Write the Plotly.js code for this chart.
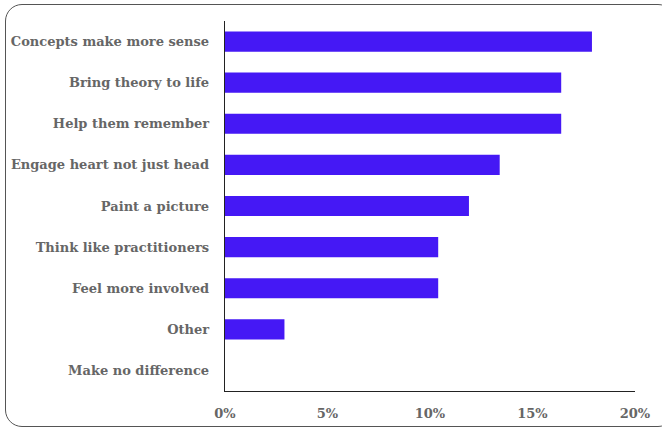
<!DOCTYPE html>
<html>
<head>
<meta charset="utf-8">
<script src="https://cdn.plot.ly/plotly-3.0.1.min.js"></script>
<style>
  html, body { margin: 0; padding: 0; background: #fff; }
  #wrap { position: relative; width: 662px; height: 429px; overflow: hidden; }
  #chart { position: absolute; left: 0; top: 0; width: 662px; height: 429px; }
  #frame { position: absolute; left: 5px; top: 4px; width: 668px; height: 421px;
           border: 1.5px solid #555; border-radius: 17px; pointer-events: none; }
</style>
</head>
<body>
<div id="wrap">
  <div id="chart"></div>
  <div id="frame"></div>
</div>
<script>
const categories = [
  "Concepts make more sense",
  "Bring theory to life",
  "Help them remember",
  "Engage heart not just head",
  "Paint a picture",
  "Think like practitioners",
  "Feel more involved",
  "Other",
  "Make no difference"
];
const values = [17.9, 16.4, 16.4, 13.4, 11.9, 10.4, 10.4, 2.9, 0];
const xTicks = [0, 5, 10, 15, 20];

const labelFont = { family: "DejaVu Serif, serif", size: 13, color: "#666666", weight: 700 };

Plotly.newPlot("chart", [{
  type: "bar",
  orientation: "h",
  y: categories,
  x: values,
  marker: { color: "#4518F5", line: { width: 0 } },
  hoverinfo: "skip"
}], {
  width: 662, height: 429,
  margin: { l: 225, r: 27, t: 21, b: 38 },
  paper_bgcolor: "rgba(0,0,0,0)",
  plot_bgcolor: "rgba(0,0,0,0)",
  bargap: 0.51,
  showlegend: false,
  xaxis: {
    range: [0, 20],
    tickvals: xTicks,
    ticktext: xTicks.map(v => v + "%"),
    showgrid: false,
    zeroline: false,
    showline: true,
    linecolor: "#222",
    linewidth: 1.3,
    ticks: "outside",
    ticklen: 10,
    tickcolor: "rgba(0,0,0,0)",
    tickfont: labelFont,
    fixedrange: true
  },
  yaxis: {
    categoryorder: "array",
    categoryarray: categories.slice().reverse(),
    showgrid: false,
    zeroline: false,
    showline: true,
    linecolor: "#222",
    linewidth: 1.3,
    ticks: "outside",
    ticklen: 12,
    tickcolor: "rgba(0,0,0,0)",
    tickfont: labelFont,
    fixedrange: true
  }
}, { displayModeBar: false, staticPlot: true });
</script>
</body>
</html>
